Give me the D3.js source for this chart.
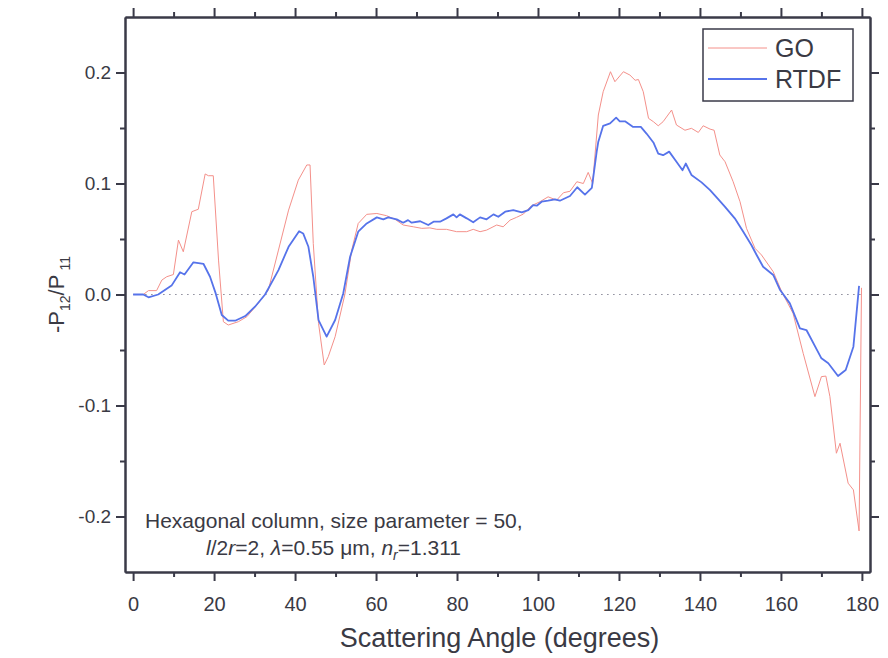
<!DOCTYPE html>
<html>
<head>
<meta charset="utf-8">
<script src="https://cdn.jsdelivr.net/npm/d3@7"></script>
<style>
  body { margin: 0; background: #fff; }
  svg text { font-family: "Liberation Sans", Arial, sans-serif; fill: #3a3a44; }
  .axis path, .axis line { stroke: #3a3a48; stroke-width: 2; }
</style>
</head>
<body>
<svg id="chart" width="888" height="658"></svg>
<script>
"use strict";
// scattering angle (deg) vs -P12/P11
const GO_DATA = [
  [0,0],[2.5,0],[3.8,0.0035],[5.8,0.0035],[7.1,0.013],[8.3,0.016],[9.95,0.018],[11.2,0.049],
  [12.4,0.0385],[14.5,0.0746],[16.1,0.0768],[17.8,0.1086],[18.6,0.107],[19.8,0.107],[21.1,0.031],
  [22.3,-0.0245],[23.5,-0.0275],[26.0,-0.0245],[28.1,-0.020],[30.9,-0.008],[33.4,0.004],[35.9,0.040],
  [38.4,0.076],[40.8,0.103],[42.9,0.1167],[43.7,0.1167],[44.5,0.046],[45.8,-0.026],[47.2,-0.0635],
  [48.2,-0.056],[49.9,-0.038],[52.3,0],[54.0,0.040],[55.6,0.064],[57.7,0.0722],[60.2,0.073],
  [62.6,0.071],[64.7,0.0677],[66.7,0.0626],[69.2,0.061],[71.3,0.0596],[73.3,0.060],[75.0,0.0587],
  [77.4,0.0587],[79.9,0.0566],[82.4,0.0566],[84.0,0.0587],[85.7,0.0566],[87.3,0.058],[89.8,0.0626],
  [91.4,0.061],[93.1,0.067],[94.7,0.0695],[96.4,0.0725],[98.4,0.080],[100.5,0.0836],[102.5,0.088],
  [104.6,0.085],[106.3,0.0917],[107.9,0.093],[109.6,0.1016],[111.2,0.100],[112.4,0.110],[113.5,0.100],
  [114.9,0.1617],[116.1,0.1827],[117.9,0.2007],[119.0,0.1917],[121.1,0.2007],[122.7,0.1977],
  [124.0,0.193],[124.8,0.1937],[126.0,0.1827],[127.3,0.1587],[128.5,0.1557],[129.7,0.152],
  [130.9,0.1557],[133.0,0.1662],[134.2,0.1527],[136.3,0.148],[137.9,0.1497],[139.6,0.146],
  [140.8,0.152],[142.5,0.149],[143.5,0.148],[144.9,0.1257],[146.2,0.1196],[148.2,0.1016],
  [149.9,0.0836],[151.5,0.0596],[153.6,0.0416],[155.2,0.0356],[158.1,0.0205],[160.2,0.0025],
  [163.0,-0.017],[165.5,-0.053],[168.4,-0.092],[170.0,-0.074],[171.1,-0.0735],[172.1,-0.092],
  [173.7,-0.143],[174.6,-0.134],[176.6,-0.170],[177.9,-0.176],[179.3,-0.213],[179.9,0.006]
];
const RTDF_DATA = [
  [0,0],[2.5,0],[3.8,-0.0025],[6.2,0],[9.5,0.008],[11.6,0.020],[12.7,0.018],[14.9,0.029],
  [17.4,0.0275],[19.0,0.016],[20.4,0.001],[21.9,-0.0185],[23.5,-0.0236],[25.2,-0.0236],[27.7,-0.0194],
  [30.1,-0.011],[32.6,0],[35.9,0.022],[38.4,0.043],[41.0,0.057],[42.0,0.055],[43.3,0.043],[44.5,0.016],
  [45.8,-0.023],[47.8,-0.038],[49.9,-0.023],[51.9,0.001],[53.6,0.034],[55.6,0.0566],[57.7,0.064],
  [60.2,0.0695],[61.8,0.0677],[63.0,0.0695],[65.1,0.0677],[66.7,0.0647],[67.9,0.067],[68.8,0.0647],
  [70.9,0.066],[72.9,0.0626],[74.2,0.0656],[75.8,0.0656],[77.4,0.0686],[79.1,0.0722],[79.9,0.0695],
  [80.7,0.0722],[82.4,0.0686],[84.0,0.065],[85.7,0.0695],[87.3,0.0677],[89.0,0.0722],[90.2,0.070],
  [91.9,0.0746],[93.9,0.076],[96.0,0.074],[97.6,0.076],[98.8,0.0806],[99.7,0.080],[100.9,0.0836],
  [102.5,0.0845],[104.2,0.0857],[105.4,0.0845],[107.9,0.0887],[109.7,0.0966],[111.6,0.090],
  [113.3,0.096],[114.5,0.1287],[114.9,0.1377],[116.1,0.152],[117.8,0.1542],[119.3,0.1593],
  [120.2,0.156],[121.5,0.156],[123.5,0.151],[125.4,0.151],[126.8,0.145],[128.5,0.137],[129.7,0.127],
  [130.9,0.1255],[132.4,0.1287],[134.2,0.1196],[135.7,0.112],[136.5,0.118],[137.9,0.1077],
  [140.4,0.101],[142.5,0.094],[144.5,0.086],[146.2,0.079],[148.6,0.0686],[150.7,0.0566],
  [152.7,0.0446],[154.0,0.0356],[155.6,0.025],[158.1,0.0176],[159.8,0.004],[162.2,-0.008],
  [164.7,-0.0305],[166.3,-0.032],[170.0,-0.0575],[171.7,-0.062],[174.1,-0.0734],[176.0,-0.068],
  [177.9,-0.047],[179.3,0.0077]
];
const X_TICKS = [0, 20, 40, 60, 80, 100, 120, 140, 160, 180];
const X_MINOR = [10, 30, 50, 70, 90, 110, 130, 150, 170];
const Y_TICKS = [-0.2, -0.1, 0.0, 0.1, 0.2];
const Y_MINOR = [-0.15, -0.05, 0.05, 0.15];
const SERIES = [
  { name: "GO", data: GO_DATA, color: "#f4908a", width: 1 },
  { name: "RTDF", data: RTDF_DATA, color: "#5673ea", width: 1.8 }
];

const svg = d3.select("#chart");
const margin = { top: 17, right: 18, bottom: 86, left: 125 };
const width = 888 - margin.left - margin.right;
const height = 658 - margin.top - margin.bottom;

const x = d3.scaleLinear().domain([-2, 182]).range([0, width]);
const y = d3.scaleLinear().domain([-0.25, 0.25]).range([height, 0]);

const g = svg.append("g")
    .attr("transform", `translate(${margin.left},${margin.top})`);

// zero reference line
g.append("line")
    .attr("x1", x(0)).attr("x2", x(180))
    .attr("y1", y(0)).attr("y2", y(0))
    .style("stroke", "#8a8a9a")
    .style("stroke-width", 1.2)
    .style("stroke-dasharray", "1.5,4.5");

// curves
let line = d3.line().x(d => x(d[0])).y(d => y(d[1]));
SERIES.forEach(s => {
  g.append("path")
      .datum(s.data)
      .attr("d", line)
      .style("fill", "none")
      .style("stroke", s.color)
      .style("stroke-width", s.width)
      .style("stroke-linejoin", "round");
});

// axes: major + minor ticks on all four sides
function addAxis(axisFn, scale, transform, major, minor, labels) {
  let a = axisFn(scale).tickValues(major).tickSize(9).tickSizeOuter(0);
  if (!labels) a.tickFormat("");
  let ax = g.append("g").attr("class", "axis").attr("transform", transform).call(a);
  let m = axisFn(scale).tickValues(minor).tickSize(5).tickSizeOuter(0).tickFormat("");
  g.append("g").attr("class", "axis").attr("transform", transform).call(m);
  return ax;
}

let xb = addAxis(d3.axisBottom, x, `translate(0,${height})`, X_TICKS, X_MINOR, true);
xb.selectAll("text").style("font-size", "20px").attr("dy", "1.35em");
addAxis(d3.axisTop, x, "translate(0,0)", X_TICKS, X_MINOR, false);

let yl = addAxis(d3.axisLeft, y, "translate(0,0)", Y_TICKS, Y_MINOR, true);
yl.selectAll("text").style("font-size", "19px").attr("dx", "-0.1em")
    .text(d => d3.format(".1f")(d).replace("−", "-"));
addAxis(d3.axisRight, y, `translate(${width},0)`, Y_TICKS, Y_MINOR, false);

// axis titles
svg.append("text")
    .attr("x", margin.left + x(90) + 2)
    .attr("y", 647)
    .attr("text-anchor", "middle")
    .style("font-size", "27px")
    .text("Scattering Angle (degrees)");

let yTitle = svg.append("text")
    .attr("transform", `translate(64,${margin.top + y(0)}) rotate(-90)`)
    .attr("text-anchor", "middle")
    .style("font-size", "22px");
yTitle.append("tspan").text("-P");
yTitle.append("tspan").text("12").style("font-size", "14px").attr("dy", 6);
yTitle.append("tspan").text("/P").attr("dy", -6);
yTitle.append("tspan").text("11").style("font-size", "14px").attr("dy", 6).attr("dx", 4);

// legend
let legend = svg.append("g");
legend.append("rect")
    .attr("x", 703).attr("y", 29)
    .attr("width", 150).attr("height", 72)
    .style("fill", "white")
    .style("stroke", "#3a3a48")
    .style("stroke-width", 1.5);
SERIES.forEach((s, i) => {
  let ly = 48 + i * 31;
  legend.append("line")
      .attr("x1", 708).attr("x2", 767)
      .attr("y1", ly).attr("y2", ly)
      .style("stroke", s.color)
      .style("stroke-width", s.width);
  legend.append("text")
      .attr("x", 775).attr("y", ly + 9)
      .style("font-size", "25px")
      .text(s.name);
});

// annotation
let note = svg.append("g").style("font-size", "21px");
note.append("text").attr("x", 145).attr("y", 528)
    .text("Hexagonal column, size parameter = 50,");
let l2 = note.append("text").attr("x", 206).attr("y", 555);
l2.append("tspan").text("l").style("font-style", "italic");
l2.append("tspan").text("/2");
l2.append("tspan").text("r").style("font-style", "italic");
l2.append("tspan").text("=2, ");
l2.append("tspan").text("λ").style("font-style", "italic");
l2.append("tspan").text("=0.55 μm, ");
l2.append("tspan").text("n").style("font-style", "italic");
l2.append("tspan").text("r").style("font-style", "italic").style("font-size", "14px").attr("dy", 5);
l2.append("tspan").text("=1.311").attr("dy", -5);
</script>
</body>
</html>
